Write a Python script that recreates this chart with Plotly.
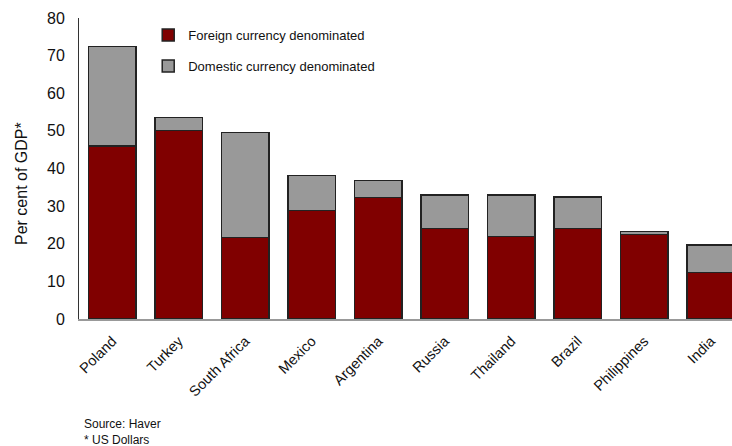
import plotly.graph_objects as go

# External debt by currency of denomination, per cent of GDP (US dollar basis)
countries = ["Poland", "Turkey", "South Africa", "Mexico", "Argentina",
             "Russia", "Thailand", "Brazil", "Philippines", "India"]
totals = [72.4, 53.5, 49.6, 38.2, 36.8, 32.9, 32.9, 32.4, 23.2, 19.7]
foreign = [46.0, 50.1, 21.7, 28.8, 32.3, 24.0, 21.9, 24.1, 22.5, 12.4]
domestic = [round(t - f, 1) for t, f in zip(totals, foreign)]

FONT = "Liberation Sans, Arial, sans-serif"
PLOT_W, PLOT_H, LEFT, TOP = 653, 301, 79, 18

fig = go.Figure()
fig.add_trace(go.Bar(
    x=countries, y=foreign, name="Foreign currency denominated",
    marker=dict(color="#800000", line=dict(color="#222222", width=1.5)),
    legendgroup="f",
))
fig.add_trace(go.Bar(
    x=countries, y=domestic, name="Domestic currency denominated",
    marker=dict(color="#999999", line=dict(color="#222222", width=1.5)),
    legendgroup="d",
))

fig.update_layout(
    width=732, height=446,
    margin=dict(l=LEFT, r=0, t=TOP, b=127),
    barmode="stack", bargap=0.29,
    plot_bgcolor="white", paper_bgcolor="white",
    font=dict(family=FONT, size=14, color="#111111"),
    showlegend=True,
    legend=dict(
        x=0.106, y=0.993, xanchor="left", yanchor="top",
        traceorder="grouped", tracegroupgap=11,
        font=dict(family=FONT, size=13, color="#111111"),
        bgcolor="rgba(0,0,0,0)", itemwidth=30,
    ),
    xaxis=dict(
        range=[-0.5, 9.32], showline=True, linecolor="#999999", linewidth=2,
        ticks="", tickangle=-45, tickfont=dict(size=14.5),
        ticklabelstandoff=6,
        showgrid=False, fixedrange=True,
    ),
    yaxis=dict(
        range=[0, 80], dtick=10, showline=True, linecolor="#333333", linewidth=1,
        ticks="", showgrid=False, zeroline=False, tickfont=dict(size=16),
        ticklabelstandoff=10,
    ),
    annotations=[
        # y-axis caption, placed a little below the plot's vertical centre
        dict(text="Per cent of GDP*", xref="paper", yref="paper",
             x=(21 - LEFT) / PLOT_W, y=(TOP + PLOT_H - 184) / PLOT_H,
             xanchor="center", yanchor="middle", textangle=-90,
             showarrow=False, font=dict(size=16, color="#111111")),
        dict(text="Source: Haver<br>* US Dollars", xref="paper", yref="paper",
             x=(82 - LEFT) / PLOT_W, y=-(415 - TOP - PLOT_H) / PLOT_H,
             xanchor="left", yanchor="top",
             align="left", showarrow=False, font=dict(size=12, color="#111111")),
    ],
)

fig.write_html("out.html")
